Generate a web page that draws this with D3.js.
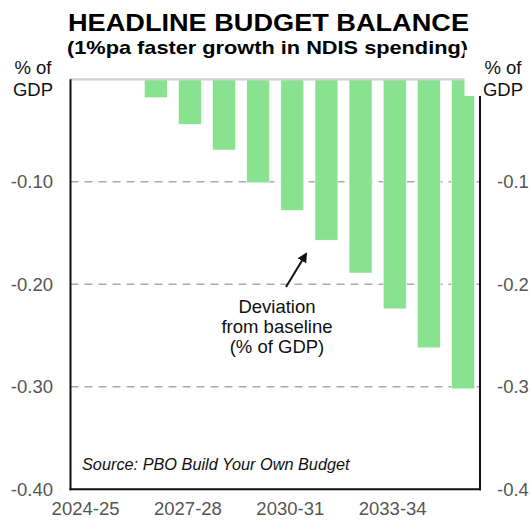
<!DOCTYPE html>
<html><head><meta charset="utf-8">
<script src="https://cdn.jsdelivr.net/npm/d3@7"></script>
<style>body{margin:0;background:#fff}svg{display:block}text{font-family:"Liberation Sans",Arial,sans-serif}</style>
</head><body><svg id="c" width="531" height="520"></svg>
<script>
const categories = ["2024-25","2025-26","2026-27","2027-28","2028-29","2029-30","2030-31","2031-32","2032-33","2033-34","2034-35","2035-36"];
const values = [0, 0, -0.018, -0.044, -0.069, -0.101, -0.128, -0.157, -0.189, -0.224, -0.262, -0.302];
const xTickLabels = ["2024-25","2027-28","2030-31","2033-34"];
const yTicks = [-0.1, -0.2, -0.3, -0.4];
const title = "HEADLINE BUDGET BALANCE";
const subtitle = "(1%pa faster growth in NDIS spending)";
const annotation = ["Deviation","from baseline","(% of GDP)"];
const source = "Source: PBO Build Your Own Budget";

const svg = d3.select("#c");
const L = 70.5, R = 480, T = 79.3, B = 489.3;
const x = d3.scaleBand().domain(categories).range([L, R]).paddingInner(0.326).paddingOuter(0.163);
const y = d3.scaleLinear().domain([0, -0.4]).range([T, B]);
const fmt = n => d => d3.format("." + n + "f")(d).replace("\u2212", "-");

// title
svg.append("text").attr("x", 268.5).attr("y", 31).attr("text-anchor","middle")
  .attr("font-size", 24.5).attr("font-weight","bold").attr("textLength",401).attr("lengthAdjust","spacingAndGlyphs").text(title);
svg.append("text").attr("x", 267.5).attr("y", 54).attr("text-anchor","middle")
  .attr("font-size", 19).attr("font-weight","bold").attr("textLength",401).attr("lengthAdjust","spacingAndGlyphs").text(subtitle);

// plot background (covers title descenders)
svg.append("rect").attr("x", L).attr("y", T).attr("width", R - L).attr("height", B - T).attr("fill","#fff");

// gridlines
svg.append("g").selectAll("line").data(yTicks.slice(0,3)).join("line")
  .attr("x1", L).attr("x2", R).attr("y1", d => y(d)).attr("y2", d => y(d))
  .attr("stroke","#aaa").attr("stroke-width",1.6).attr("stroke-dasharray","8,6");

// bars
svg.append("g").selectAll("rect").data(categories.map((c,i)=>({c, v: values[i]})).filter(d=>d.v!==0)).join("rect")
  .attr("x", d => x(d.c)).attr("width", x.bandwidth())
  .attr("y", d => y(0)).attr("height", d => y(d.v) - y(0))
  .attr("fill","#88e290").attr("stroke","#fff").attr("stroke-width",0.6);

// zero line
svg.append("line").attr("x1", L).attr("x2", R).attr("y1", y(0)).attr("y2", y(0)).attr("stroke","#cfcfcf").attr("stroke-width",2.2);

// axes frame
svg.append("line").attr("x1", L).attr("x2", L).attr("y1", T).attr("y2", B+1).attr("stroke","#111").attr("stroke-width",2);
svg.append("line").attr("x1", R).attr("x2", R).attr("y1", T).attr("y2", B+1).attr("stroke","#111").attr("stroke-width",2);
svg.append("line").attr("x1", L-1).attr("x2", R+1).attr("y1", B).attr("y2", B).attr("stroke","#111").attr("stroke-width",2);

// right label white box covering part of the last bar
svg.append("rect").attr("x", 464.5).attr("y", 50).attr("width", 66).attr("height", 46).attr("fill","#fff");

// left y axis labels
const yl = d3.axisLeft(y).tickValues(yTicks).tickFormat(fmt(2)).tickSize(0).tickPadding(17.5);
const gl = svg.append("g").attr("transform",`translate(${L},0)`).call(yl);
gl.select(".domain").remove();
gl.selectAll("text").attr("font-size",18.5).attr("fill","#555").attr("font-family","Liberation Sans, Arial, sans-serif");
const yr = d3.axisRight(y).tickValues(yTicks).tickFormat(fmt(1)).tickSize(0).tickPadding(17);
const gr = svg.append("g").attr("transform",`translate(${R},0)`).call(yr);
gr.select(".domain").remove();
gr.selectAll("text").attr("font-size",18.5).attr("fill","#555").attr("font-family","Liberation Sans, Arial, sans-serif");

// x axis labels
const xa = d3.axisBottom(x).tickValues(xTickLabels).tickSize(0).tickPadding(13);
const gx = svg.append("g").attr("transform",`translate(-2,${B})`).call(xa);
gx.select(".domain").remove();
gx.selectAll("text").attr("font-size",18.5).attr("fill","#555").attr("font-family","Liberation Sans, Arial, sans-serif");

// unit labels
[["% of",33,74],["GDP",33,96],["% of",503,74],["GDP",503,96]].forEach(([t,cx,cy])=>{
  svg.append("text").attr("x",cx).attr("y",cy).attr("text-anchor","middle").attr("font-size",18.5).attr("fill","#111").text(t);
});

// annotation
svg.append("g").selectAll("text").data(annotation).join("text")
  .attr("x", 277).attr("y", (d,i) => 313 + i*20).attr("text-anchor","middle")
  .attr("font-size",18.5).attr("fill","#111").text(d=>d);
svg.append("defs").append("marker").attr("id","ah").attr("viewBox","0 0 10 10").attr("refX",8).attr("refY",5)
  .attr("markerWidth",5).attr("markerHeight",5).attr("orient","auto")
  .append("path").attr("d","M0,0L10,5L0,10z").attr("fill","#111");
svg.append("line").attr("x1",286).attr("y1",287).attr("x2",306).attr("y2",254)
  .attr("stroke","#111").attr("stroke-width",2).attr("marker-end","url(#ah)");

// source
svg.append("text").attr("x", 82).attr("y", 470).attr("font-size",16.3).attr("font-style","italic").attr("fill","#111").text(source);
</script></body></html>
